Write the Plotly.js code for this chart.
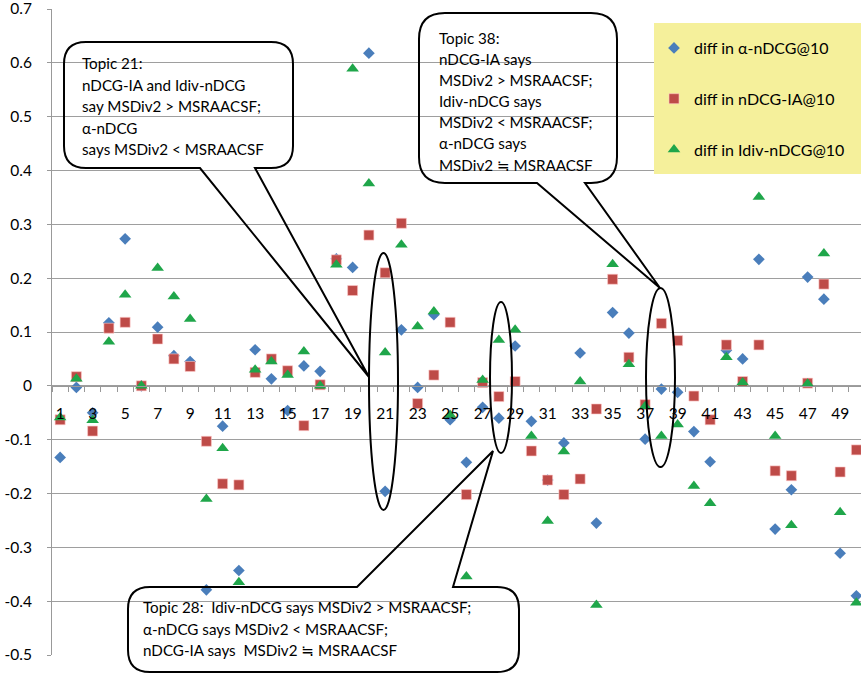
<!DOCTYPE html>
<html><head><meta charset="utf-8">
<script src="https://cdn.plot.ly/plotly-3.0.1.min.js"></script>
<style>html,body{margin:0;padding:0;background:#fff}#chart{width:861px;height:675px}</style>
</head><body><div id="chart"></div>
<script>
const topics = [1,2,3,4,5,6,7,8,9,10,11,12,13,14,15,16,17,18,19,20,21,22,23,24,25,26,27,28,29,30,31,32,33,34,35,36,37,38,39,40,41,42,43,44,45,46,47,48,49,50];
const diffAlpha = [-0.133,-0.003,-0.050,0.117,0.273,0.000,0.109,0.056,0.045,-0.379,-0.075,-0.343,0.067,0.013,-0.046,0.037,0.027,0.236,0.220,0.618,-0.196,0.104,-0.003,0.132,-0.063,-0.142,-0.040,-0.060,0.074,-0.066,-0.175,-0.106,0.061,-0.255,0.136,0.098,-0.099,-0.006,-0.012,-0.085,-0.141,0.066,0.050,0.235,-0.266,-0.193,0.202,0.161,-0.311,-0.390];
const diffIA = [-0.063,0.017,-0.084,0.107,0.118,0.000,0.087,0.050,0.036,-0.103,-0.182,-0.184,0.025,0.050,0.028,-0.074,0.002,0.234,0.177,0.280,0.210,0.302,-0.033,0.020,0.118,-0.202,0.006,-0.020,0.008,-0.121,-0.175,-0.202,-0.173,-0.043,0.198,0.053,-0.035,0.116,0.084,-0.019,-0.063,0.076,0.008,0.076,-0.158,-0.167,0.005,0.189,-0.160,-0.119];
const diffIdiv = [-0.059,0.013,-0.064,0.082,0.169,0.000,0.219,0.166,0.124,-0.210,-0.116,-0.365,0.030,0.045,0.020,0.064,0.000,0.225,0.589,0.376,0.062,0.262,0.110,0.138,-0.054,-0.354,0.011,0.085,0.104,-0.093,-0.251,-0.122,0.008,-0.407,0.226,0.040,-0.038,-0.093,-0.072,-0.186,-0.218,0.053,0.006,0.351,-0.093,-0.259,0.004,0.246,-0.235,-0.403];
const seriesNames = ['diff in \u03b1-nDCG@10','diff in nDCG-IA@10','diff in Idiv-nDCG@10'];
const yTicks = [-0.5,-0.4,-0.3,-0.2,-0.1,0,0.1,0.2,0.3,0.4,0.5,0.6,0.7];
const yTickLabels = ['-0.5','-0.4','-0.3','-0.2','-0.1','0','0.1','0.2','0.3','0.4','0.5','0.6','0.7'];
const note21 = ['Topic 21:','nDCG-IA and Idiv-nDCG','say MSDiv2 > MSRAACSF;','\u03b1-nDCG','says MSDiv2 < MSRAACSF'];
const note38 = ['Topic 38:','nDCG-IA says','MSDiv2 > MSRAACSF;','Idiv-nDCG says','MSDiv2 < MSRAACSF;','\u03b1-nDCG says','MSDiv2 \u2252 MSRAACSF'];
const note28 = ['Topic 28:  Idiv-nDCG says MSDiv2 > MSRAACSF;','\u03b1-nDCG says MSDiv2 < MSRAACSF;','nDCG-IA says  MSDiv2 \u2252 MSRAACSF'];

const W=861,H=675,ML=52,MR=0,MT=9,MB=20;
const PW=W-ML-MR, PH=H-MT-MB;
const px=x=>(x-ML)/PW, py=y=>(H-MB-y)/PH;
const FONT='Lato, "DejaVu Sans", sans-serif';

function callout(x0,y0,x1,y1,r,side,a,tip,b){
  const P=(x,y)=>px(x).toFixed(5)+','+py(y).toFixed(5);
  let d='M'+P(x0+r,y0);
  if(side==='top'){ d+=' L'+P(a,y0)+' L'+P(tip[0],tip[1])+' L'+P(b,y0); }
  d+=' L'+P(x1-r,y0)+' Q'+P(x1,y0)+' '+P(x1,y0+r);
  d+=' L'+P(x1,y1-r)+' Q'+P(x1,y1)+' '+P(x1-r,y1);
  if(side==='bottom'){ d+=' L'+P(b,y1)+' L'+P(tip[0],tip[1])+' L'+P(a,y1); }
  d+=' L'+P(x0+r,y1)+' Q'+P(x0,y1)+' '+P(x0,y1-r);
  d+=' L'+P(x0,y0+r)+' Q'+P(x0,y0)+' '+P(x0+r,y0)+' Z';
  return {type:'path',xref:'paper',yref:'paper',path:d,line:{color:'#000',width:2},fillcolor:'rgba(0,0,0,0)',layer:'above'};
}
function ell(x0,x1,y0,y1){
  return {type:'circle',xref:'paper',yref:'paper',x0:px(x0),x1:px(x1),y0:py(y1),y1:py(y0),line:{color:'#000',width:2},layer:'above'};
}
function lines(arr,x,y0,dy){
  return arr.map((t,i)=>({xref:'paper',yref:'paper',x:px(x),y:py(y0+i*dy),xanchor:'left',yanchor:'middle',text:t,showarrow:false,font:{family:FONT,size:15.2,color:'#000'}}));
}

const traces=[
 {x:topics,y:diffAlpha,name:seriesNames[0],type:'scatter',mode:'markers',legendgroup:'a',marker:{symbol:'diamond',size:9,color:'#4A7EBB'}},
 {x:topics,y:diffIA,name:seriesNames[1],type:'scatter',mode:'markers',legendgroup:'b',marker:{symbol:'square',size:10,color:'#BE4B48',line:{color:'rgba(255,200,200,0.6)',width:1}}},
 {x:topics,y:diffIdiv,name:seriesNames[2],type:'scatter',mode:'markers',legendgroup:'c',marker:{symbol:'triangle-up',size:11,color:'#1FA64A'}}
];

const shapes=[
 {type:'rect',xref:'paper',yref:'paper',x0:px(654),x1:1.02,y0:py(174),y1:py(23),fillcolor:'#F5F09B',line:{width:0},layer:'above'},
 callout(64,42,293,168,22,'bottom',200,[369,377],255),
 callout(419,13,617,183,26,'bottom',537,[660,288],585),
 callout(128,587,519,672,22,'top',357,[493,451],453),
 ell(369,398,253,510),
 ell(490,512,302,453),
 ell(646,675,288,467)
];
const annotations=[].concat(lines(note21,80,63,21.5),lines(note38,437,38,21.1),lines(note28,141,607,21.5));

const layout={
 width:W,height:H,margin:{l:ML,r:MR,t:MT,b:MB,pad:0},
 paper_bgcolor:'#fff',plot_bgcolor:'#fff',
 font:{family:FONT,size:15,color:'#000'},
 showlegend:true,
 legend:{x:px(654),y:py(31),xanchor:'left',yanchor:'top',bgcolor:'rgba(0,0,0,0)',traceorder:'grouped',tracegroupgap:27,font:{family:FONT,size:16,color:'#000'}},
 xaxis:{range:[0.5,0.5+PW/16.25],anchor:'free',position:0.5/1.2,showgrid:false,zeroline:false,showline:true,linecolor:'#999',linewidth:1,
   tickmode:'linear',tick0:1,dtick:2,ticks:'outside',ticklen:14,tickcolor:'rgba(0,0,0,0)',tickfont:{family:FONT,size:15.5,color:'#000'},
   minor:{tickmode:'linear',tick0:0.5,dtick:1,ticks:'outside',ticklen:5,tickcolor:'#999',tickwidth:1,showgrid:false}},
 yaxis:{range:[-0.5,0.7],tickmode:'array',tickvals:yTicks,ticktext:yTickLabels,showgrid:true,gridcolor:'#9e9e9e',gridwidth:1,zeroline:false,
   showline:true,linecolor:'#999',ticks:'outside',ticklen:4,tickcolor:'#999',ticklabelstandoff:12,ticklabeloverflow:'allow',tickfont:{family:FONT,size:15.5,color:'#000'}},
 shapes:shapes,annotations:annotations
};
Plotly.newPlot('chart',traces,layout,{displayModeBar:false,staticPlot:true});
</script></body></html>
